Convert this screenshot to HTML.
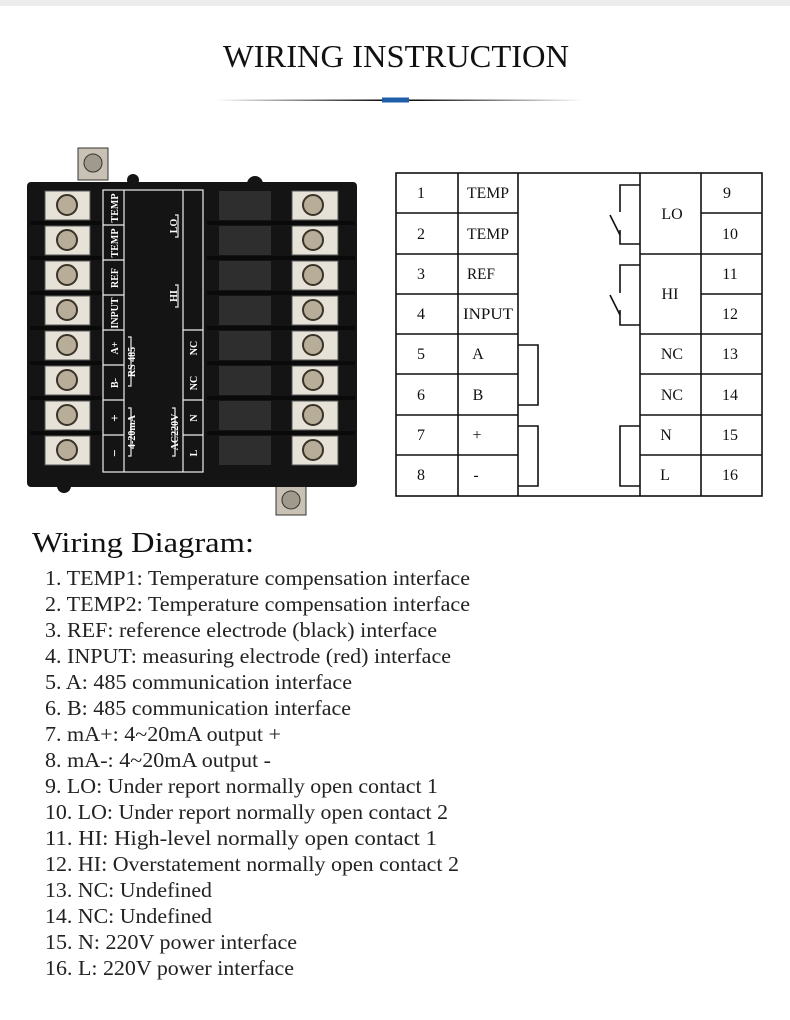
<!DOCTYPE html>
<html><head><meta charset="utf-8"><style>
html,body{margin:0;padding:0;background:#fff;width:790px;height:1020px;overflow:hidden}
svg{display:block}
</style></head><body>
<svg width="790" height="1020" viewBox="0 0 790 1020" xmlns="http://www.w3.org/2000/svg" font-family="Liberation Serif, serif">
<defs>
<linearGradient id="ln" x1="0" x2="1"><stop offset="0" stop-color="#fff"/><stop offset="0.45" stop-color="#111"/><stop offset="0.55" stop-color="#111"/><stop offset="1" stop-color="#fff"/></linearGradient>
</defs>
<rect x="0" y="0" width="790" height="6" fill="#ececec"/>
<text x="396" y="67" text-anchor="middle" font-size="32" fill="#111" textLength="346" lengthAdjust="spacingAndGlyphs">WIRING INSTRUCTION</text>
<rect x="215" y="99.5" width="368" height="1.5" fill="url(#ln)"/>
<rect x="382" y="97.5" width="27" height="5" fill="#1f5ea8"/>

<!-- device -->
<rect x="78" y="148" width="30" height="32" fill="#c9c2b4" stroke="#333"/>
<circle cx="93" cy="163" r="9" fill="#a09a8c" stroke="#333"/>
<rect x="276" y="485" width="30" height="30" fill="#c9c2b4" stroke="#333"/>
<circle cx="291" cy="500" r="9" fill="#a09a8c" stroke="#333"/>
<rect x="27" y="182" width="330" height="305" rx="4" fill="#141414"/>
<circle cx="64" cy="486" r="7" fill="#141414"/>
<circle cx="255" cy="184" r="8" fill="#141414"/>
<circle cx="133" cy="180" r="6" fill="#141414"/>
<g>
<g fill="#e7e2d8" stroke="#555" stroke-width="1">
<rect x="45" y="191" width="45" height="29"/><rect x="45" y="226" width="45" height="29"/><rect x="45" y="261" width="45" height="29"/><rect x="45" y="296" width="45" height="29"/><rect x="45" y="331" width="45" height="29"/><rect x="45" y="366" width="45" height="29"/><rect x="45" y="401" width="45" height="29"/><rect x="45" y="436" width="45" height="29"/>
<rect x="292" y="191" width="46" height="29"/><rect x="292" y="226" width="46" height="29"/><rect x="292" y="261" width="46" height="29"/><rect x="292" y="296" width="46" height="29"/><rect x="292" y="331" width="46" height="29"/><rect x="292" y="366" width="46" height="29"/><rect x="292" y="401" width="46" height="29"/><rect x="292" y="436" width="46" height="29"/>
</g>
<g fill="#b8ad98" stroke="#3a3328" stroke-width="2">
<circle cx="67" cy="205" r="10"/><circle cx="67" cy="240" r="10"/><circle cx="67" cy="275" r="10"/><circle cx="67" cy="310" r="10"/><circle cx="67" cy="345" r="10"/><circle cx="67" cy="380" r="10"/><circle cx="67" cy="415" r="10"/><circle cx="67" cy="450" r="10"/>
<circle cx="313" cy="205" r="10"/><circle cx="313" cy="240" r="10"/><circle cx="313" cy="275" r="10"/><circle cx="313" cy="310" r="10"/><circle cx="313" cy="345" r="10"/><circle cx="313" cy="380" r="10"/><circle cx="313" cy="415" r="10"/><circle cx="313" cy="450" r="10"/>
</g>
<g fill="#2e2e2e">
<rect x="219" y="191" width="52" height="29"/><rect x="219" y="226" width="52" height="29"/><rect x="219" y="261" width="52" height="29"/><rect x="219" y="296" width="52" height="29"/><rect x="219" y="331" width="52" height="29"/><rect x="219" y="366" width="52" height="29"/><rect x="219" y="401" width="52" height="29"/><rect x="219" y="436" width="52" height="29"/>
</g>
<g fill="#0a0a0a">
<rect x="30" y="221" width="73" height="4"/><rect x="30" y="256" width="73" height="4"/><rect x="30" y="291" width="73" height="4"/><rect x="30" y="326" width="73" height="4"/><rect x="30" y="361" width="73" height="4"/><rect x="30" y="396" width="73" height="4"/><rect x="30" y="431" width="73" height="4"/>
<rect x="207" y="221" width="148" height="4"/><rect x="207" y="256" width="148" height="4"/><rect x="207" y="291" width="148" height="4"/><rect x="207" y="326" width="148" height="4"/><rect x="207" y="361" width="148" height="4"/><rect x="207" y="396" width="148" height="4"/><rect x="207" y="431" width="148" height="4"/>
</g>
</g>
<!-- panel -->
<g stroke="#eee" stroke-width="1.2" fill="none">
<rect x="103" y="190" width="100" height="282"/>
<line x1="124" y1="190" x2="124" y2="472"/>
<line x1="183" y1="190" x2="183" y2="472"/>
<line x1="103" y1="225" x2="124" y2="225"/><line x1="103" y1="260" x2="124" y2="260"/><line x1="103" y1="295" x2="124" y2="295"/><line x1="103" y1="330" x2="124" y2="330"/><line x1="103" y1="365" x2="124" y2="365"/><line x1="103" y1="400" x2="124" y2="400"/><line x1="103" y1="435" x2="124" y2="435"/>
<line x1="183" y1="330" x2="203" y2="330"/><line x1="183" y1="400" x2="203" y2="400"/><line x1="183" y1="435" x2="203" y2="435"/>
<polyline points="175,215 178,215 178,237 175,237"/>
<polyline points="175,285 178,285 178,307 175,307"/>
<polyline points="128,337 131,337 131,386 128,386"/>
<polyline points="128,408 131,408 131,456 128,456"/>
<polyline points="172,408 175,408 175,456 172,456"/>
</g>
<g fill="#fff" font-size="10" font-weight="bold" text-anchor="middle">
<text transform="translate(118,208) rotate(-90)">TEMP</text>
<text transform="translate(118,243) rotate(-90)">TEMP</text>
<text transform="translate(118,278) rotate(-90)">REF</text>
<text transform="translate(118,313) rotate(-90)">INPUT</text>
<text transform="translate(118,348) rotate(-90)">A+</text>
<text transform="translate(118,383) rotate(-90)">B-</text>
<text transform="translate(119,418) rotate(-90)" font-size="13">+</text>
<text transform="translate(119,453) rotate(-90)" font-size="13">−</text>
<text transform="translate(177,226) rotate(-90)">LO</text>
<text transform="translate(177,296) rotate(-90)">HI</text>
<text transform="translate(135,362) rotate(-90)">RS 485</text>
<text transform="translate(135,432) rotate(-90)">4-20mA</text>
<text transform="translate(178,432) rotate(-90)">AC220V</text>
<text transform="translate(197,348) rotate(-90)">NC</text>
<text transform="translate(197,383) rotate(-90)">NC</text>
<text transform="translate(197,418) rotate(-90)">N</text>
<text transform="translate(197,453) rotate(-90)">L</text>
</g>

<!-- table -->
<g stroke="#111" stroke-width="1.6" fill="none">
<rect x="396" y="173" width="366" height="323"/>
<line x1="458" y1="173" x2="458" y2="496"/>
<line x1="518" y1="173" x2="518" y2="496"/>
<line x1="640" y1="173" x2="640" y2="496"/>
<line x1="701" y1="173" x2="701" y2="496"/>
<line x1="396" y1="213" x2="518" y2="213"/><line x1="396" y1="254" x2="518" y2="254"/><line x1="396" y1="294" x2="518" y2="294"/><line x1="396" y1="334" x2="518" y2="334"/><line x1="396" y1="374" x2="518" y2="374"/><line x1="396" y1="415" x2="518" y2="415"/><line x1="396" y1="455" x2="518" y2="455"/>
<line x1="701" y1="213" x2="762" y2="213"/><line x1="640" y1="254" x2="762" y2="254"/><line x1="701" y1="294" x2="762" y2="294"/><line x1="640" y1="334" x2="762" y2="334"/><line x1="640" y1="374" x2="762" y2="374"/><line x1="640" y1="415" x2="762" y2="415"/><line x1="640" y1="455" x2="762" y2="455"/>
<polyline points="518,345 538,345 538,405 518,405"/>
<polyline points="518,426 538,426 538,486 518,486"/>
<polyline points="640,426 620,426 620,486 640,486"/>
<polyline points="640,185 620,185 620,212"/>
<line x1="610" y1="215" x2="620" y2="235"/>
<polyline points="620,230 620,244 640,244"/>
<polyline points="640,265 620,265 620,293"/>
<line x1="610" y1="295" x2="620" y2="315"/>
<polyline points="620,310 620,325 640,325"/>
</g>
<g font-size="16" fill="#111" text-anchor="middle">
<text x="421" y="198">1</text><text x="421" y="239">2</text><text x="421" y="279">3</text><text x="421" y="319">4</text><text x="421" y="359">5</text><text x="421" y="400">6</text><text x="421" y="440">7</text><text x="421" y="480">8</text>
<text x="488" y="198" textLength="42" lengthAdjust="spacingAndGlyphs">TEMP</text>
<text x="488" y="239" textLength="42" lengthAdjust="spacingAndGlyphs">TEMP</text>
<text x="481" y="279" textLength="28" lengthAdjust="spacingAndGlyphs">REF</text>
<text x="488" y="319" textLength="50" lengthAdjust="spacingAndGlyphs">INPUT</text>
<text x="478" y="359">A</text><text x="478" y="400">B</text><text x="477" y="440">+</text><text x="476" y="480">-</text>
<text x="672" y="219">LO</text><text x="670" y="299">HI</text>
<text x="672" y="359">NC</text><text x="672" y="400">NC</text><text x="666" y="440">N</text><text x="665" y="480">L</text>
<text x="727" y="198">9</text><text x="730" y="239">10</text><text x="730" y="279">11</text><text x="730" y="319">12</text><text x="730" y="359">13</text><text x="730" y="400">14</text><text x="730" y="440">15</text><text x="730" y="480">16</text>
</g>

<text x="32" y="552" font-size="29" fill="#111" textLength="222" lengthAdjust="spacingAndGlyphs">Wiring Diagram:</text>
<g font-size="21" fill="#222" lengthAdjust="spacingAndGlyphs">
<text x="45" y="585" textLength="425" lengthAdjust="spacingAndGlyphs">1. TEMP1: Temperature compensation interface</text>
<text x="45" y="611" textLength="425" lengthAdjust="spacingAndGlyphs">2. TEMP2: Temperature compensation interface</text>
<text x="45" y="637" textLength="392" lengthAdjust="spacingAndGlyphs">3. REF: reference electrode (black) interface</text>
<text x="45" y="663" textLength="406" lengthAdjust="spacingAndGlyphs">4. INPUT: measuring electrode (red) interface</text>
<text x="45" y="689" textLength="307" lengthAdjust="spacingAndGlyphs">5. A: 485 communication interface</text>
<text x="45" y="715" textLength="306" lengthAdjust="spacingAndGlyphs">6. B: 485 communication interface</text>
<text x="45" y="741" textLength="236" lengthAdjust="spacingAndGlyphs">7. mA+: 4~20mA output +</text>
<text x="45" y="767" textLength="226" lengthAdjust="spacingAndGlyphs">8. mA-: 4~20mA output -</text>
<text x="45" y="793" textLength="393" lengthAdjust="spacingAndGlyphs">9. LO: Under report normally open contact 1</text>
<text x="45" y="819" textLength="403" lengthAdjust="spacingAndGlyphs">10. LO: Under report normally open contact 2</text>
<text x="45" y="845" textLength="392" lengthAdjust="spacingAndGlyphs">11. HI: High-level normally open contact 1</text>
<text x="45" y="871" textLength="414" lengthAdjust="spacingAndGlyphs">12. HI: Overstatement normally open contact 2</text>
<text x="45" y="897" textLength="167" lengthAdjust="spacingAndGlyphs">13. NC: Undefined</text>
<text x="45" y="923" textLength="167" lengthAdjust="spacingAndGlyphs">14. NC: Undefined</text>
<text x="45" y="949" textLength="252" lengthAdjust="spacingAndGlyphs">15. N: 220V power interface</text>
<text x="45" y="975" textLength="249" lengthAdjust="spacingAndGlyphs">16. L: 220V power interface</text>
</g>
</svg>
</body></html>
